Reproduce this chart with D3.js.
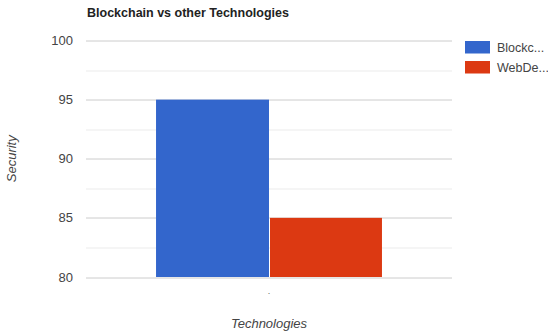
<!DOCTYPE html>
<html>
<head>
<meta charset="utf-8">
<script src="https://cdn.jsdelivr.net/npm/d3@7"></script>
<style>
  body { margin: 0; background: #fff; }
  text { font-family: "Liberation Sans", Arial, sans-serif; }
</style>
</head>
<body>
<div id="chart"></div>
<script>
// data
var categories = ["."];
var seriesNames = ["Blockchain", "WebDevelopment"];
var seriesLabels = ["Blockc...", "WebDe..."];
var seriesValues = [[95], [85]];
var yTicks = [80, 85, 90, 95, 100];
var yMinor = [82.5, 87.5, 92.5, 97.5];
var colors = ["#3366cc", "#dc3912"];

var W = 548, H = 335;
var margin = {top: 40.5, right: 96, bottom: 58, left: 86},
    width = W - margin.left - margin.right,
    height = H - margin.top - margin.bottom;

var svg = d3.select("#chart").append("svg")
    .attr("width", W)
    .attr("height", H);

var g = svg.append("g")
    .attr("transform", "translate(" + margin.left + "," + margin.top + ")");

// scales
var x0 = d3.scaleBand().domain(categories).range([0, width]).paddingInner(0).paddingOuter(0.31);
var x1 = d3.scaleBand().domain(seriesNames).range([0, x0.bandwidth()]);
var y = d3.scaleLinear().domain([80, 100]).range([height, 0]);

// gridlines
g.selectAll(".minor").data(yMinor).enter().append("line")
    .attr("x1", 0).attr("x2", width)
    .attr("y1", function(d) { return Math.round(y(d)) + 0.5; })
    .attr("y2", function(d) { return Math.round(y(d)) + 0.5; })
    .attr("stroke", "#ebebeb");
g.selectAll(".major").data(yTicks).enter().append("line")
    .attr("x1", 0).attr("x2", width)
    .attr("y1", function(d) { return Math.round(y(d)) + 0.5; })
    .attr("y2", function(d) { return Math.round(y(d)) + 0.5; })
    .attr("stroke", "#cccccc");

// y tick labels
g.selectAll(".ytick").data(yTicks).enter().append("text")
    .attr("x", -13)
    .attr("y", function(d) { return y(d); })
    .attr("dy", "0.35em")
    .attr("text-anchor", "end")
    .attr("font-size", 13)
    .attr("fill", "#444")
    .text(function(d) { return d; });

// bars
var groups = g.selectAll(".grp").data(categories).enter().append("g")
    .attr("transform", function(d) { return "translate(" + x0(d) + ",0)"; });

groups.selectAll("rect")
    .data(function(d, ci) {
      return seriesNames.map(function(s, si) { return {s: s, v: seriesValues[si][ci], i: si}; });
    })
    .enter().append("rect")
    .attr("x", function(d) { return x1(d.s) + (d.i > 0 ? 1 : 0); })
    .attr("width", function(d) { return x1.bandwidth() - (d.i > 0 ? 1 : 0); })
    .attr("y", function(d) { return y(d.v); })
    .attr("height", function(d) { return height - y(d.v); })
    .attr("fill", function(d) { return colors[d.i]; });

// category labels
g.selectAll(".xlab").data(categories).enter().append("text")
    .attr("x", function(d) { return x0(d) + x0.bandwidth() / 2; })
    .attr("y", height + 17)
    .attr("text-anchor", "middle")
    .attr("font-size", 9)
    .attr("fill", "#666")
    .text(function(d) { return d; });

// title
svg.append("text")
    .attr("x", 87).attr("y", 17)
    .attr("font-size", 12.5)
    .attr("font-weight", "bold")
    .attr("fill", "#222")
    .text("Blockchain vs other Technologies");

// axis titles
svg.append("text")
    .attr("x", margin.left + width / 2).attr("y", 328)
    .attr("text-anchor", "middle")
    .attr("font-size", 13)
    .attr("font-style", "italic")
    .attr("fill", "#444")
    .text("Technologies");

svg.append("text")
    .attr("transform", "translate(16," + (margin.top + height / 2) + ") rotate(-90)")
    .attr("text-anchor", "middle")
    .attr("font-size", 13)
    .attr("font-style", "italic")
    .attr("fill", "#444")
    .text("Security");

// legend
var legend = svg.selectAll(".legend").data(seriesLabels).enter().append("g")
    .attr("transform", function(d, i) { return "translate(465," + (41 + i * 20) + ")"; });
legend.append("rect")
    .attr("width", 25).attr("height", 12.5)
    .attr("fill", function(d, i) { return colors[i]; });
legend.append("text")
    .attr("x", 32).attr("y", 6.5)
    .attr("dy", "0.35em")
    .attr("font-size", 12.5)
    .attr("fill", "#444")
    .text(function(d) { return d; });
</script>
</body>
</html>
